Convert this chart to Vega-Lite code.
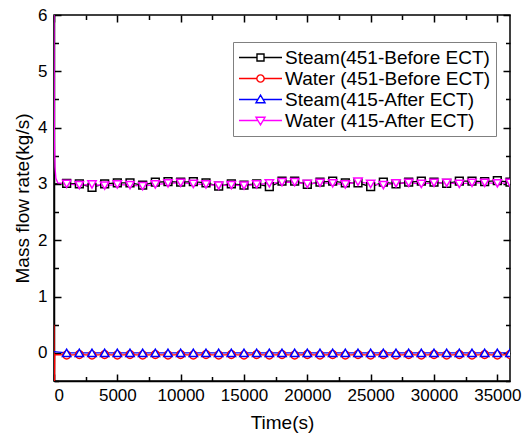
{
  "$schema": "https://vega.github.io/schema/vega-lite/v6.json",
  "width": 456,
  "height": 366,
  "autosize": {"type": "none"},
  "padding": {"left": 54, "top": 15, "right": 14, "bottom": 53},
  "background": "white",
  "config": {
    "view": {"stroke": "black", "strokeWidth": 1.5},
    "font": "Liberation Sans",
    "axis": {
      "domainColor": "black",
      "domainWidth": 1.5,
      "tickColor": "black",
      "tickWidth": 1.6,
      "tickOpacity": 1,
      "grid": false,
      "gridColor": "black",
      "gridOpacity": 1,
      "gridWidth": 1.5,
      "labelColor": "black",
      "titleColor": "black",
      "labelFont": "Liberation Sans Narrow, Arial Narrow, Liberation Sans",
      "labelFontSize": 17,
      "labelOverlap": false,
      "labelBound": false,
      "titleFont": "Liberation Sans",
      "titleFontSize": 19,
      "titleFontWeight": "normal"
    }
  },
  "datasets": {
    "flow": [
      {"s": "Steam(451-Before ECT)", "t": 0, "v": 3.0},
      {"s": "Steam(451-Before ECT)", "t": 1000, "v": 3.01},
      {"s": "Steam(451-Before ECT)", "t": 2000, "v": 3.0},
      {"s": "Steam(451-Before ECT)", "t": 3000, "v": 2.94},
      {"s": "Steam(451-Before ECT)", "t": 4000, "v": 3.0},
      {"s": "Steam(451-Before ECT)", "t": 5000, "v": 3.02},
      {"s": "Steam(451-Before ECT)", "t": 6000, "v": 3.02},
      {"s": "Steam(451-Before ECT)", "t": 7000, "v": 2.98},
      {"s": "Steam(451-Before ECT)", "t": 8000, "v": 3.03},
      {"s": "Steam(451-Before ECT)", "t": 9000, "v": 3.04},
      {"s": "Steam(451-Before ECT)", "t": 10000, "v": 3.03},
      {"s": "Steam(451-Before ECT)", "t": 11000, "v": 3.04},
      {"s": "Steam(451-Before ECT)", "t": 12000, "v": 3.02},
      {"s": "Steam(451-Before ECT)", "t": 13000, "v": 2.96},
      {"s": "Steam(451-Before ECT)", "t": 14000, "v": 3.0},
      {"s": "Steam(451-Before ECT)", "t": 15000, "v": 2.98},
      {"s": "Steam(451-Before ECT)", "t": 16000, "v": 3.0},
      {"s": "Steam(451-Before ECT)", "t": 17000, "v": 2.95},
      {"s": "Steam(451-Before ECT)", "t": 18000, "v": 3.05},
      {"s": "Steam(451-Before ECT)", "t": 19000, "v": 3.05},
      {"s": "Steam(451-Before ECT)", "t": 20000, "v": 2.99},
      {"s": "Steam(451-Before ECT)", "t": 21000, "v": 3.03},
      {"s": "Steam(451-Before ECT)", "t": 22000, "v": 3.05},
      {"s": "Steam(451-Before ECT)", "t": 23000, "v": 3.02},
      {"s": "Steam(451-Before ECT)", "t": 24000, "v": 3.02},
      {"s": "Steam(451-Before ECT)", "t": 25000, "v": 2.95},
      {"s": "Steam(451-Before ECT)", "t": 26000, "v": 3.03},
      {"s": "Steam(451-Before ECT)", "t": 27000, "v": 3.0},
      {"s": "Steam(451-Before ECT)", "t": 28000, "v": 3.03},
      {"s": "Steam(451-Before ECT)", "t": 29000, "v": 3.05},
      {"s": "Steam(451-Before ECT)", "t": 30000, "v": 3.03},
      {"s": "Steam(451-Before ECT)", "t": 31000, "v": 3.01},
      {"s": "Steam(451-Before ECT)", "t": 32000, "v": 3.05},
      {"s": "Steam(451-Before ECT)", "t": 33000, "v": 3.05},
      {"s": "Steam(451-Before ECT)", "t": 34000, "v": 3.04},
      {"s": "Steam(451-Before ECT)", "t": 35000, "v": 3.06},
      {"s": "Steam(451-Before ECT)", "t": 36000, "v": 3.03},

      {"s": "Water (451-Before ECT)", "t": 0, "v": 0.5},
      {"s": "Water (451-Before ECT)", "t": 20, "v": -1.0},
      {"s": "Water (451-Before ECT)", "t": 60, "v": -0.03},
      {"s": "Water (451-Before ECT)", "t": 1000, "v": -0.04},
      {"s": "Water (451-Before ECT)", "t": 2000, "v": -0.03},
      {"s": "Water (451-Before ECT)", "t": 3000, "v": -0.04},
      {"s": "Water (451-Before ECT)", "t": 4000, "v": -0.03},
      {"s": "Water (451-Before ECT)", "t": 5000, "v": -0.04},
      {"s": "Water (451-Before ECT)", "t": 6000, "v": -0.03},
      {"s": "Water (451-Before ECT)", "t": 7000, "v": -0.04},
      {"s": "Water (451-Before ECT)", "t": 8000, "v": -0.03},
      {"s": "Water (451-Before ECT)", "t": 9000, "v": -0.04},
      {"s": "Water (451-Before ECT)", "t": 10000, "v": -0.03},
      {"s": "Water (451-Before ECT)", "t": 11000, "v": -0.04},
      {"s": "Water (451-Before ECT)", "t": 12000, "v": -0.03},
      {"s": "Water (451-Before ECT)", "t": 13000, "v": -0.04},
      {"s": "Water (451-Before ECT)", "t": 14000, "v": -0.03},
      {"s": "Water (451-Before ECT)", "t": 15000, "v": -0.04},
      {"s": "Water (451-Before ECT)", "t": 16000, "v": -0.03},
      {"s": "Water (451-Before ECT)", "t": 17000, "v": -0.04},
      {"s": "Water (451-Before ECT)", "t": 18000, "v": -0.03},
      {"s": "Water (451-Before ECT)", "t": 19000, "v": -0.04},
      {"s": "Water (451-Before ECT)", "t": 20000, "v": -0.03},
      {"s": "Water (451-Before ECT)", "t": 21000, "v": -0.04},
      {"s": "Water (451-Before ECT)", "t": 22000, "v": -0.03},
      {"s": "Water (451-Before ECT)", "t": 23000, "v": -0.04},
      {"s": "Water (451-Before ECT)", "t": 24000, "v": -0.03},
      {"s": "Water (451-Before ECT)", "t": 25000, "v": -0.04},
      {"s": "Water (451-Before ECT)", "t": 26000, "v": -0.03},
      {"s": "Water (451-Before ECT)", "t": 27000, "v": -0.04},
      {"s": "Water (451-Before ECT)", "t": 28000, "v": -0.03},
      {"s": "Water (451-Before ECT)", "t": 29000, "v": -0.04},
      {"s": "Water (451-Before ECT)", "t": 30000, "v": -0.03},
      {"s": "Water (451-Before ECT)", "t": 31000, "v": -0.04},
      {"s": "Water (451-Before ECT)", "t": 32000, "v": -0.03},
      {"s": "Water (451-Before ECT)", "t": 33000, "v": -0.04},
      {"s": "Water (451-Before ECT)", "t": 34000, "v": -0.03},
      {"s": "Water (451-Before ECT)", "t": 35000, "v": -0.04},
      {"s": "Water (451-Before ECT)", "t": 36000, "v": -0.03},

      {"s": "Steam(415-After ECT)", "t": 0, "v": 0.02},
      {"s": "Steam(415-After ECT)", "t": 1000, "v": 0.0},
      {"s": "Steam(415-After ECT)", "t": 2000, "v": 0.0},
      {"s": "Steam(415-After ECT)", "t": 3000, "v": 0.0},
      {"s": "Steam(415-After ECT)", "t": 4000, "v": 0.0},
      {"s": "Steam(415-After ECT)", "t": 5000, "v": 0.0},
      {"s": "Steam(415-After ECT)", "t": 6000, "v": 0.0},
      {"s": "Steam(415-After ECT)", "t": 7000, "v": 0.0},
      {"s": "Steam(415-After ECT)", "t": 8000, "v": 0.0},
      {"s": "Steam(415-After ECT)", "t": 9000, "v": 0.0},
      {"s": "Steam(415-After ECT)", "t": 10000, "v": 0.0},
      {"s": "Steam(415-After ECT)", "t": 11000, "v": 0.0},
      {"s": "Steam(415-After ECT)", "t": 12000, "v": 0.0},
      {"s": "Steam(415-After ECT)", "t": 13000, "v": 0.0},
      {"s": "Steam(415-After ECT)", "t": 14000, "v": 0.0},
      {"s": "Steam(415-After ECT)", "t": 15000, "v": 0.0},
      {"s": "Steam(415-After ECT)", "t": 16000, "v": 0.0},
      {"s": "Steam(415-After ECT)", "t": 17000, "v": 0.0},
      {"s": "Steam(415-After ECT)", "t": 18000, "v": 0.0},
      {"s": "Steam(415-After ECT)", "t": 19000, "v": 0.0},
      {"s": "Steam(415-After ECT)", "t": 20000, "v": 0.0},
      {"s": "Steam(415-After ECT)", "t": 21000, "v": 0.0},
      {"s": "Steam(415-After ECT)", "t": 22000, "v": 0.0},
      {"s": "Steam(415-After ECT)", "t": 23000, "v": 0.0},
      {"s": "Steam(415-After ECT)", "t": 24000, "v": 0.0},
      {"s": "Steam(415-After ECT)", "t": 25000, "v": 0.0},
      {"s": "Steam(415-After ECT)", "t": 26000, "v": 0.0},
      {"s": "Steam(415-After ECT)", "t": 27000, "v": 0.0},
      {"s": "Steam(415-After ECT)", "t": 28000, "v": 0.0},
      {"s": "Steam(415-After ECT)", "t": 29000, "v": 0.0},
      {"s": "Steam(415-After ECT)", "t": 30000, "v": 0.0},
      {"s": "Steam(415-After ECT)", "t": 31000, "v": 0.0},
      {"s": "Steam(415-After ECT)", "t": 32000, "v": 0.0},
      {"s": "Steam(415-After ECT)", "t": 33000, "v": 0.0},
      {"s": "Steam(415-After ECT)", "t": 34000, "v": 0.0},
      {"s": "Steam(415-After ECT)", "t": 35000, "v": 0.0},
      {"s": "Steam(415-After ECT)", "t": 36000, "v": 0.0},

      {"s": "Water (415-After ECT)", "t": 0, "v": 6.0},
      {"s": "Water (415-After ECT)", "t": 30, "v": 3.8},
      {"s": "Water (415-After ECT)", "t": 80, "v": 3.3},
      {"s": "Water (415-After ECT)", "t": 150, "v": 3.1},
      {"s": "Water (415-After ECT)", "t": 300, "v": 3.02},
      {"s": "Water (415-After ECT)", "t": 1000, "v": 3.0},
      {"s": "Water (415-After ECT)", "t": 2000, "v": 2.98},
      {"s": "Water (415-After ECT)", "t": 3000, "v": 2.99},
      {"s": "Water (415-After ECT)", "t": 4000, "v": 2.97},
      {"s": "Water (415-After ECT)", "t": 5000, "v": 2.99},
      {"s": "Water (415-After ECT)", "t": 6000, "v": 2.98},
      {"s": "Water (415-After ECT)", "t": 7000, "v": 2.96},
      {"s": "Water (415-After ECT)", "t": 8000, "v": 2.99},
      {"s": "Water (415-After ECT)", "t": 9000, "v": 3.01},
      {"s": "Water (415-After ECT)", "t": 10000, "v": 3.02},
      {"s": "Water (415-After ECT)", "t": 11000, "v": 3.0},
      {"s": "Water (415-After ECT)", "t": 12000, "v": 2.99},
      {"s": "Water (415-After ECT)", "t": 13000, "v": 2.97},
      {"s": "Water (415-After ECT)", "t": 14000, "v": 2.98},
      {"s": "Water (415-After ECT)", "t": 15000, "v": 2.97},
      {"s": "Water (415-After ECT)", "t": 16000, "v": 2.99},
      {"s": "Water (415-After ECT)", "t": 17000, "v": 3.01},
      {"s": "Water (415-After ECT)", "t": 18000, "v": 3.03},
      {"s": "Water (415-After ECT)", "t": 19000, "v": 3.03},
      {"s": "Water (415-After ECT)", "t": 20000, "v": 3.0},
      {"s": "Water (415-After ECT)", "t": 21000, "v": 3.02},
      {"s": "Water (415-After ECT)", "t": 22000, "v": 3.01},
      {"s": "Water (415-After ECT)", "t": 23000, "v": 2.99},
      {"s": "Water (415-After ECT)", "t": 24000, "v": 3.04},
      {"s": "Water (415-After ECT)", "t": 25000, "v": 3.0},
      {"s": "Water (415-After ECT)", "t": 26000, "v": 2.98},
      {"s": "Water (415-After ECT)", "t": 27000, "v": 3.01},
      {"s": "Water (415-After ECT)", "t": 28000, "v": 3.02},
      {"s": "Water (415-After ECT)", "t": 29000, "v": 3.0},
      {"s": "Water (415-After ECT)", "t": 30000, "v": 3.02},
      {"s": "Water (415-After ECT)", "t": 31000, "v": 3.02},
      {"s": "Water (415-After ECT)", "t": 32000, "v": 3.0},
      {"s": "Water (415-After ECT)", "t": 33000, "v": 3.02},
      {"s": "Water (415-After ECT)", "t": 34000, "v": 3.02},
      {"s": "Water (415-After ECT)", "t": 35000, "v": 3.01},
      {"s": "Water (415-After ECT)", "t": 36000, "v": 3.02}
    ]
  },
  "data": {"name": "flow"},
  "layer": [
    {
      "mark": {"type": "point", "opacity": 0},
      "encoding": {
        "x": {
          "field": "t", "type": "quantitative",
          "axis": {
            "orient": "bottom", "title": null, "labels": false, "domain": false, "ticks": false,
            "grid": true, "gridDash": [7, 352, 7],
            "values": [0, 5000, 10000, 15000, 20000, 25000, 30000, 35000]
          }
        },
        "y": {
          "field": "v", "type": "quantitative",
          "axis": {
            "orient": "left", "title": null, "labels": false, "domain": false, "ticks": false,
            "grid": true, "gridDash": [7, 442, 7],
            "values": [0, 1, 2, 3, 4, 5, 6]
          }
        }
      }
    },
    {
      "mark": {"type": "point", "opacity": 0},
      "encoding": {
        "x": {
          "field": "t", "type": "quantitative",
          "axis": {
            "orient": "bottom", "title": null, "labels": false, "domain": false, "ticks": false,
            "grid": true, "gridDash": [4.5, 357, 4.5],
            "values": [2500, 7500, 12500, 17500, 22500, 27500, 32500]
          }
        },
        "y": {
          "field": "v", "type": "quantitative",
          "axis": {
            "orient": "left", "title": null, "labels": false, "domain": false, "ticks": false,
            "grid": true, "gridDash": [4.5, 447, 4.5],
            "values": [-0.5, 0.5, 1.5, 2.5, 3.5, 4.5, 5.5]
          }
        }
      }
    },
    {
      "mark": {"type": "line", "strokeWidth": 1.3, "clip": true},
      "encoding": {
        "x": {
          "field": "t", "type": "quantitative",
          "scale": {"domain": [0, 36000], "nice": false},
          "axis": {
            "orient": "bottom",
            "title": "Time(s)",
            "values": [0, 5000, 10000, 15000, 20000, 25000, 30000, 35000],
            "labelExpr": "format(datum.value, 'd')",
            "ticks": false,
            "labelPadding": 6,
            "titlePadding": 10
          }
        },
        "y": {
          "field": "v", "type": "quantitative",
          "scale": {"domain": [-0.5, 6], "nice": false, "zero": false},
          "axis": {
            "orient": "left",
            "title": "Mass flow rate(kg/s)",
            "values": [0, 1, 2, 3, 4, 5, 6],
            "labelExpr": "format(datum.value, 'd')",
            "ticks": false,
            "labelPadding": 7,
            "titlePadding": 5
          }
        },
        "color": {
          "field": "s", "type": "nominal",
          "scale": {
            "domain": ["Steam(451-Before ECT)", "Water (451-Before ECT)", "Steam(415-After ECT)", "Water (415-After ECT)"],
            "range": ["#000000", "#ff0000", "#0000ff", "#ff00ff"]
          },
          "legend": {
            "title": null,
            "orient": "none",
            "legendX": 179,
            "legendY": 27,
            "strokeColor": "#808080",
            "fillColor": "white",
            "padding": 5,
            "labelFont": "Liberation Sans",
            "labelFontSize": 19,
            "labelColor": "black",
            "labelLimit": 400,
            "labelOffset": 2,
            "symbolSize": 1849,
            "symbolStrokeWidth": 1.4,
            "clipHeight": 21,
            "rowPadding": 0,
            "encode": {
              "symbols": {
                "update": {
                  "fill": {"value": "white"},
                  "shape": {"signal": "datum.value === 'Steam(451-Before ECT)' ? 'M-1,0H-0.163M0.163,0H1M-0.163,-0.163H0.163V0.163H-0.163Z' : datum.value === 'Water (451-Before ECT)' ? 'M-1,0H-0.17M0.17,0H1M-0.17,0A0.17,0.17,0,1,0,0.17,0A0.17,0.17,0,1,0,-0.17,0Z' : datum.value === 'Steam(415-After ECT)' ? 'M-1,0H-0.12M0.12,0H1M0,-0.2L0.21,0.15H-0.21Z' : 'M-1,0H-0.12M0.12,0H1M0,0.2L0.21,-0.15H-0.21Z'"}
                }
              }
            }
          }
        }
      }
    },
    {
      "transform": [{"filter": "datum.s === 'Steam(451-Before ECT)' && datum.t >= 1000 && datum.t % 1000 === 0"}],
      "mark": {"type": "point", "shape": "square", "filled": false, "fill": "white", "fillOpacity": 1, "opacity": 1, "strokeWidth": 1.5, "size": 60, "clip": true},
      "encoding": {
        "x": {"field": "t", "type": "quantitative", "axis": null},
        "y": {"field": "v", "type": "quantitative", "axis": null},
        "color": {"field": "s", "type": "nominal"}
      }
    },
    {
      "transform": [{"filter": "datum.s === 'Water (451-Before ECT)' && datum.t >= 1000 && datum.t % 1000 === 0"}],
      "mark": {"type": "point", "shape": "circle", "filled": false, "fill": "white", "fillOpacity": 1, "opacity": 1, "strokeWidth": 1.5, "size": 60, "clip": true},
      "encoding": {
        "x": {"field": "t", "type": "quantitative", "axis": null},
        "y": {"field": "v", "type": "quantitative", "axis": null},
        "color": {"field": "s", "type": "nominal"}
      }
    },
    {
      "transform": [{"filter": "datum.s === 'Steam(415-After ECT)' && datum.t >= 1000 && datum.t % 1000 === 0"}],
      "mark": {"type": "point", "shape": "triangle-up", "filled": false, "fill": "white", "fillOpacity": 1, "opacity": 1, "strokeWidth": 1.5, "size": 70, "clip": true},
      "encoding": {
        "x": {"field": "t", "type": "quantitative", "axis": null},
        "y": {"field": "v", "type": "quantitative", "axis": null},
        "color": {"field": "s", "type": "nominal"}
      }
    },
    {
      "transform": [{"filter": "datum.s === 'Water (415-After ECT)' && datum.t >= 1000 && datum.t % 1000 === 0"}],
      "mark": {"type": "point", "shape": "triangle-down", "filled": false, "fill": "white", "fillOpacity": 1, "opacity": 1, "strokeWidth": 1.5, "size": 70, "clip": true},
      "encoding": {
        "x": {"field": "t", "type": "quantitative", "axis": null},
        "y": {"field": "v", "type": "quantitative", "axis": null},
        "color": {"field": "s", "type": "nominal"}
      }
    }
  ],
  "resolve": {"axis": {"x": "independent", "y": "independent"}}
}
